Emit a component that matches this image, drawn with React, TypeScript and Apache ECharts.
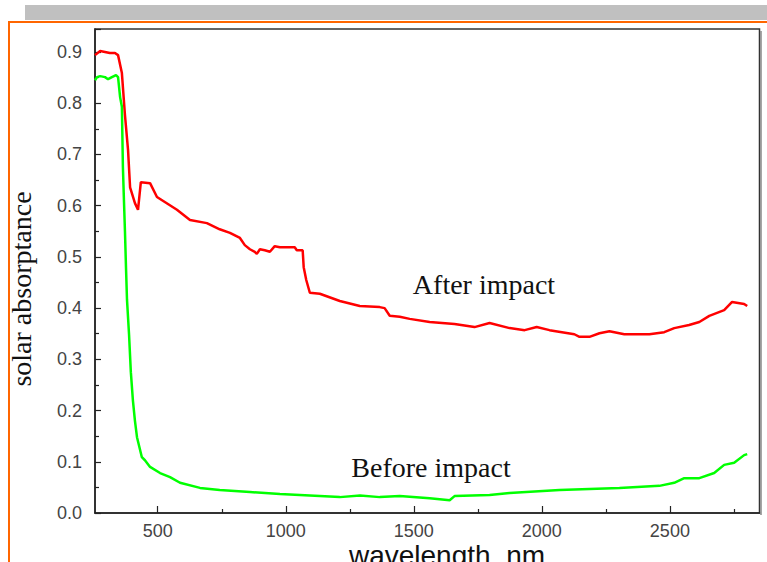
import React, { useEffect, useRef } from "react";
import * as echarts from "echarts";

const afterWavelength = [255, 275, 294, 313, 333, 345, 360, 372, 384, 392, 411, 423, 434, 470, 497, 575, 626, 692, 742, 782, 821, 840, 860, 879, 887, 899, 918, 938, 957, 977, 1035, 1043, 1066, 1070, 1080, 1094, 1133, 1211, 1289, 1367, 1386, 1406, 1445, 1484, 1562, 1659, 1737, 1796, 1874, 1933, 1980, 2030, 2127, 2147, 2186, 2225, 2264, 2322, 2420, 2478, 2517, 2575, 2615, 2654, 2712, 2743, 2790, 2802];
const afterValues = [0.894, 0.902, 0.9, 0.898, 0.898, 0.894, 0.859, 0.777, 0.709, 0.636, 0.605, 0.592, 0.646, 0.644, 0.617, 0.592, 0.572, 0.566, 0.554, 0.547, 0.537, 0.523, 0.515, 0.51, 0.506, 0.515, 0.513, 0.51, 0.521, 0.519, 0.519, 0.513, 0.513, 0.48, 0.455, 0.43, 0.428, 0.414, 0.404, 0.402, 0.4, 0.385, 0.383, 0.379, 0.373, 0.369, 0.363, 0.371, 0.361, 0.357, 0.363, 0.357, 0.349, 0.344, 0.344, 0.351, 0.355, 0.349, 0.349, 0.353, 0.361, 0.367, 0.373, 0.385, 0.396, 0.412, 0.408, 0.404];

const beforeWavelength = [255, 263, 275, 294, 306, 321, 337, 345, 353, 360, 364, 368, 372, 376, 380, 388, 395, 403, 411, 419, 438, 450, 470, 509, 548, 587, 665, 742, 860, 977, 1055, 1133, 1211, 1290, 1367, 1445, 1562, 1640, 1659, 1796, 1874, 2069, 2303, 2459, 2517, 2556, 2615, 2673, 2712, 2751, 2790, 2802];
const beforeValues = [0.845, 0.851, 0.853, 0.851, 0.847, 0.851, 0.855, 0.851, 0.812, 0.793, 0.675, 0.611, 0.55, 0.48, 0.416, 0.348, 0.275, 0.22, 0.18, 0.148, 0.109, 0.103, 0.09, 0.078, 0.07, 0.059, 0.049, 0.045, 0.041, 0.037, 0.035, 0.033, 0.031, 0.034, 0.031, 0.033, 0.029, 0.025, 0.033, 0.035, 0.039, 0.045, 0.049, 0.053, 0.059, 0.068, 0.068, 0.078, 0.094, 0.098, 0.113, 0.115];

const xMajorTicks = [500, 1000, 1500, 2000, 2500];
const xMinorTicks = [750, 1250, 1750, 2250, 2750];
const yTickLabels = ["0.0", "0.1", "0.2", "0.3", "0.4", "0.5", "0.6", "0.7", "0.8", "0.9"];

const xTitle = "wavelength, nm";
const yTitle = "solar absorptance";
const afterLabel = "After impact";
const beforeLabel = "Before impact";

function zip(xs: number[], ys: number[]) {
  return xs.map((x, i) => [x, ys[i]]);
}

export default function App() {
  const ref = useRef<HTMLDivElement>(null);
  useEffect(() => {
    if (!ref.current) return;
    const chart = echarts.init(ref.current, null, { renderer: "svg" });
    const axisColor = "#222";
    const labelFont = { fontFamily: "Liberation Sans, Arial, sans-serif", fontSize: 18, color: "#444" };
    chart.setOption({
      animation: false,
      backgroundColor: "#fff",
      grid: {
        left: 95,
        right: 7.5,
        top: 29,
        bottom: 49,
        show: true,
        borderColor: "#333",
        borderWidth: 1.5,
        backgroundColor: "transparent",
      },
      xAxis: [
        {
          type: "value",
          min: 255,
          max: 2850,
          position: "bottom",
          axisLine: { show: true, lineStyle: { color: axisColor, width: 1.5 } },
          axisTick: { show: true, inside: true, length: 7, customValues: xMajorTicks, lineStyle: { color: axisColor, width: 1.2 } },
          axisLabel: { ...labelFont, margin: 9, customValues: xMajorTicks, formatter: (v: number) => String(v) },
          splitLine: { show: false },
        },
        {
          type: "value",
          min: 255,
          max: 2850,
          position: "bottom",
          axisLine: { show: false },
          axisTick: { show: true, inside: true, length: 4, customValues: xMinorTicks, lineStyle: { color: axisColor, width: 1.2 } },
          axisLabel: { show: false },
          splitLine: { show: false },
        },
      ],
      yAxis: {
        type: "value",
        min: 0,
        max: 0.945,
        interval: 0.1,
        axisLine: { show: true, lineStyle: { color: axisColor, width: 1.5 } },
        axisTick: { show: true, inside: true, length: 6, lineStyle: { color: axisColor, width: 1.2 } },
        minorTick: { show: true, splitNumber: 2, length: 4, lineStyle: { color: axisColor, width: 1.2 } },
        axisLabel: {
          ...labelFont,
          margin: 13,
          formatter: (v: number) => {
            const idx = Math.round(v * 10);
            if (Math.abs(v * 10 - idx) > 1e-6) return "";
            return yTickLabels[idx] ?? "";
          },
        },
        splitLine: { show: false },
      },
      series: [
        {
          type: "line",
          name: afterLabel,
          data: zip(afterWavelength, afterValues),
          showSymbol: false,
          lineStyle: { color: "#ff0000", width: 2.5 },
          itemStyle: { color: "#ff0000" },
        },
        {
          type: "line",
          name: beforeLabel,
          data: zip(beforeWavelength, beforeValues),
          showSymbol: false,
          lineStyle: { color: "#00ff00", width: 2.5 },
          itemStyle: { color: "#00ff00" },
        },
      ],
      graphic: [
        { type: "rect", shape: { x: 25, y: 5, width: 742, height: 15 }, style: { fill: "#c0c0c0" }, silent: true },
        { type: "rect", shape: { x: 8, y: 21, width: 759, height: 2 }, style: { fill: "#ff6600" }, silent: true },
        { type: "rect", shape: { x: 8, y: 21, width: 2, height: 541 }, style: { fill: "#ff6600" }, silent: true },
        { type: "line", shape: { x1: 761, y1: 31, x2: 761, y2: 515 }, style: { stroke: "#888", lineWidth: 1.5 }, silent: true },
        {
          type: "text",
          x: 447,
          y: 541,
          style: { text: xTitle, fontFamily: "Liberation Sans, Arial, sans-serif", fontSize: 28, fill: "#111", textAlign: "center", textVerticalAlign: "top" },
        },
        {
          type: "text",
          x: 21,
          y: 289,
          rotation: Math.PI / 2,
          style: { text: yTitle, fontFamily: "Liberation Serif, Times New Roman, serif", fontSize: 28, fill: "#111", textAlign: "center", textVerticalAlign: "middle" },
        },
        {
          type: "text",
          x: 484,
          y: 284,
          style: { text: afterLabel, fontFamily: "Liberation Serif, Times New Roman, serif", fontSize: 28, fill: "#111", textAlign: "center", textVerticalAlign: "middle" },
        },
        {
          type: "text",
          x: 431,
          y: 467,
          style: { text: beforeLabel, fontFamily: "Liberation Serif, Times New Roman, serif", fontSize: 28, fill: "#111", textAlign: "center", textVerticalAlign: "middle" },
        },
      ],
    });
    return () => chart.dispose();
  }, []);
  return <div ref={ref} style={{ position: "absolute", left: 0, top: 0, width: 767, height: 562 }} />;
}
